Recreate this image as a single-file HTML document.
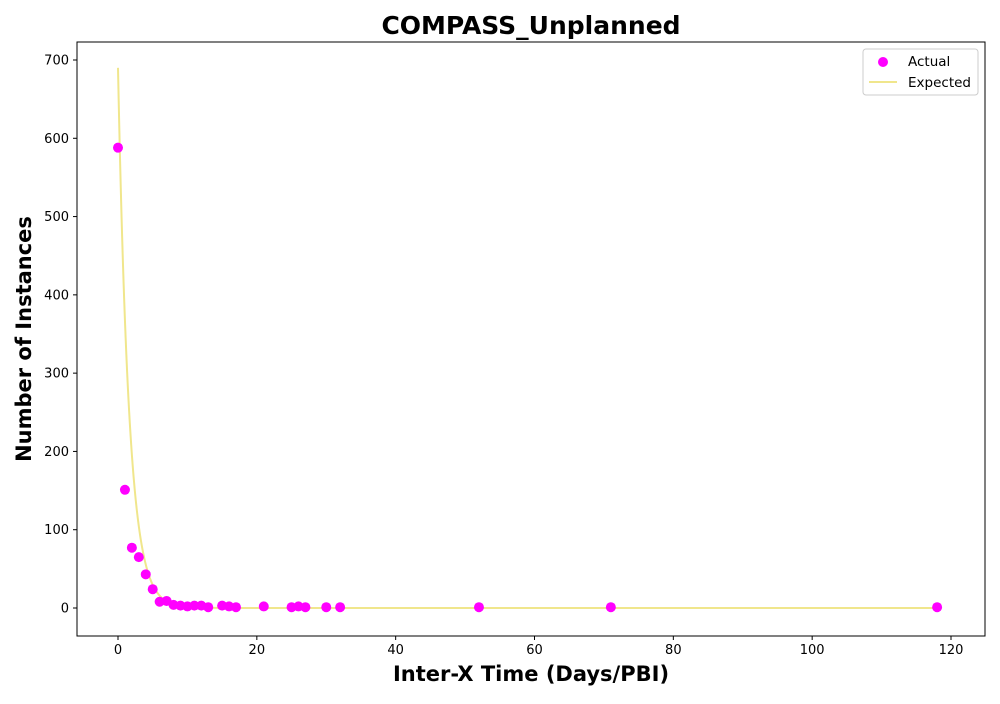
<!DOCTYPE html>
<html><head><meta charset="utf-8"><style>
body{margin:0;background:#fff;font-family:"DejaVu Sans",sans-serif}
</style></head><body>
<svg id="c" width="1000" height="700" xmlns="http://www.w3.org/2000/svg" font-family="DejaVu Sans, sans-serif"></svg>
<script>
const xs=[0,1,2,3,4,5,6,7,8,9,10,11,12,13,15,16,17,21,25,26,27,30,32,52,71,118];
const actual=[588,151,77,65,43,24,8,9,4,3,2,3,3,1,3,2,1,2,1,2,1,1,1,1,1,1];
const expA=690, expK=0.63;
const xTicks=[0,20,40,60,80,100,120];
const yTicks=[0,100,200,300,400,500,600,700];
const L=77,R=985,T=42,B=636;
const X=v=>118+(v)*(951-118)/120;
const Y=v=>608-v*(608-60)/700;
const s=document.getElementById('c');
const NS='http://www.w3.org/2000/svg';
function el(t,a,txt){const e=document.createElementNS(NS,t);for(const k in a)e.setAttribute(k,a[k]);if(txt!==undefined)e.textContent=txt;s.appendChild(e);return e;}
let e;
e=el('rect',{x:L,y:T,width:R-L,height:B-T,fill:'none',stroke:'#000','stroke-width':1});


xTicks.forEach(v=>{
 e=el('line',{x1:X(v),x2:X(v),y1:B,y2:B+4,stroke:'#000'});
 
 
 e=el('text',{x:X(v),y:B+18,'text-anchor':'middle','font-size':13},v);
 
 
});
yTicks.forEach(v=>{
 e=el('line',{x1:L-4,x2:L,y1:Y(v),y2:Y(v),stroke:'#000'});
 
 
 e=el('text',{x:L-8,y:Y(v)+4.5,'text-anchor':'end','font-size':13},v);
 
 
});
let d='';
for(let i=0;i<=1180;i++){const x=i/10;d+=(i?'L':'M')+X(x).toFixed(2)+','+Y(expA*Math.exp(-expK*x)).toFixed(2);}
e=el('path',{d:d,fill:'none',stroke:'#f0e68c','stroke-width':2});


xs.forEach((x,i)=>{
 e=el('circle',{cx:X(x),cy:Y(actual[i]),r:5,fill:'#ff00ff'});
 
 
});
e=el('text',{x:531,y:34,'text-anchor':'middle','font-size':25,'font-weight':'bold'},'COMPASS_Unplanned');


e=el('text',{x:531,y:681,'text-anchor':'middle','font-size':21,'font-weight':'bold'},'Inter-X Time (Days/PBI)');


e=el('text',{x:31,y:339,'text-anchor':'middle','font-size':21,'font-weight':'bold',transform:'rotate(-90 31 339)'},'Number of Instances');


e=el('rect',{x:863,y:49,width:115,height:46,fill:'#fff',stroke:'#ccc',rx:3});


e=el('circle',{cx:883,cy:62,r:5,fill:'#ff00ff'});


e=el('text',{x:908,y:66,'font-size':13.5},'Actual');


e=el('line',{x1:869,x2:897,y1:82,y2:82,stroke:'#f0e68c','stroke-width':2});


e=el('text',{x:908,y:87,'font-size':13.5},'Expected');


</script>
</body></html>
